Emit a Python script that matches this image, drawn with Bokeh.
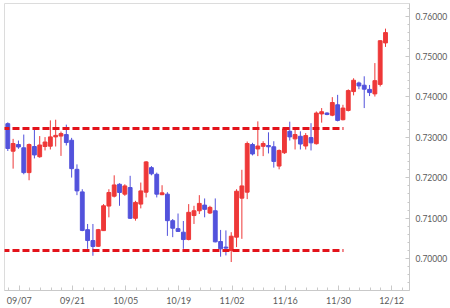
from bokeh.plotting import figure
from bokeh.models import FixedTicker, PrintfTickFormatter, ColumnDataSource, Range1d
from bokeh.embed import file_html
from bokeh.resources import INLINE

# ---- data ----
opens = [0.73339, 0.72658, 0.72823, 0.72742, 0.72128, 0.72774, 0.72521, 0.72774, 0.72781, 0.73012,
         0.73032, 0.73069, 0.72929, 0.72209, 0.71651, 0.70717, 0.70447, 0.70305, 0.70693, 0.71300,
         0.71545, 0.71840, 0.71595, 0.71759, 0.70998, 0.71349, 0.71644, 0.72251, 0.72086, 0.71582,
         0.71595, 0.70939, 0.70742, 0.70654, 0.70472, 0.71066, 0.71184, 0.71324, 0.71128, 0.71184,
         0.70423, 0.70285, 0.70201, 0.70531, 0.71496, 0.71644, 0.72823, 0.72713, 0.72779, 0.72799,
         0.72767, 0.72290, 0.72619, 0.73150, 0.72963, 0.73027, 0.72786, 0.72995, 0.72843, 0.73580,
         0.73602, 0.73548, 0.73806, 0.73437, 0.73666, 0.74133, 0.74346, 0.74290, 0.74187, 0.74076,
         0.74310, 0.75337]
highs = [0.73371, 0.72963, 0.72921, 0.73069, 0.72848, 0.73233, 0.73032, 0.73007, 0.73420, 0.73437,
         0.73143, 0.73315, 0.72988, 0.72332, 0.71717, 0.70857, 0.70857, 0.70735, 0.71349, 0.71717,
         0.72061, 0.71865, 0.71840, 0.72049, 0.71430, 0.71882, 0.72413, 0.72290, 0.72128, 0.71816,
         0.71644, 0.70980, 0.71116, 0.70931, 0.71349, 0.71307, 0.71570, 0.71489, 0.71307, 0.71489,
         0.70710, 0.70698, 0.70654, 0.71717, 0.72197, 0.72897, 0.72865, 0.73396, 0.72904, 0.73125,
         0.72904, 0.72700, 0.73229, 0.73388, 0.73192, 0.73150, 0.73106, 0.73351, 0.73641, 0.73725,
         0.73622, 0.73995, 0.74052, 0.73806, 0.74187, 0.74462, 0.74378, 0.74511, 0.74297, 0.74838,
         0.75403, 0.75690]
lows = [0.72663, 0.72226, 0.72717, 0.72086, 0.71939, 0.72479, 0.72496, 0.72676, 0.72700, 0.72774,
        0.72541, 0.72799, 0.72005, 0.71570, 0.70678, 0.70243, 0.70071, 0.70292, 0.70686, 0.71022,
        0.71514, 0.71307, 0.71553, 0.70980, 0.70939, 0.71243, 0.71514, 0.72061, 0.71514, 0.71570,
        0.70563, 0.70531, 0.70661, 0.70243, 0.70452, 0.70857, 0.71103, 0.71022, 0.71103, 0.70403,
        0.70047, 0.70079, 0.69916, 0.70285, 0.70489, 0.71472, 0.72553, 0.72536, 0.72536, 0.72602,
        0.72251, 0.72209, 0.72590, 0.72921, 0.72700, 0.72700, 0.72700, 0.72676, 0.72823, 0.73364,
        0.73548, 0.73523, 0.73396, 0.73420, 0.73641, 0.74039, 0.74192, 0.73725, 0.74022, 0.74010,
        0.74260, 0.75238]
closes = [0.72725, 0.72848, 0.72762, 0.72128, 0.72823, 0.72565, 0.72811, 0.72885, 0.73012, 0.73049,
          0.73093, 0.72872, 0.72226, 0.71676, 0.70698, 0.70447, 0.70300, 0.70717, 0.71307, 0.71636,
          0.71823, 0.71636, 0.71799, 0.70998, 0.71391, 0.71676, 0.72393, 0.72098, 0.71595, 0.71627,
          0.70939, 0.70752, 0.70673, 0.70472, 0.71145, 0.71184, 0.71366, 0.71219, 0.71268, 0.70415,
          0.70243, 0.70260, 0.70555, 0.71668, 0.71799, 0.72848, 0.72590, 0.72786, 0.72848, 0.72767,
          0.72405, 0.72676, 0.73209, 0.73012, 0.73069, 0.72835, 0.73044, 0.72865, 0.73602, 0.73634,
          0.73565, 0.73862, 0.73420, 0.73725, 0.74157, 0.74413, 0.74273, 0.74192, 0.74108, 0.74403,
          0.75391, 0.75592]

date_labels = ["09/07", "09/21", "10/05", "10/19", "11/02", "11/16", "11/30", "12/12"]
price_ticks = [0.70, 0.71, 0.72, 0.73, 0.74, 0.75, 0.76]

resistance_level = 0.7322
support_level = 0.7020
level_first_bar = -1
level_last_bar = 63.1

# ---- style ----
UP = "#ee3838"
DOWN = "#5252dc"
LEVEL = "#e3131b"
AXIS = "#c9c9c9"
LABEL = "#5a5a5a"

n = len(opens)
idx = list(range(n))
colors = [UP if c >= o else DOWN for o, c in zip(opens, closes)]
tops = [max(o, c) for o, c in zip(opens, closes)]
bots = [min(o, c) for o, c in zip(opens, closes)]
src = ColumnDataSource(dict(x=idx, high=highs, low=lows, top=tops, bottom=bots, color=colors))

p = figure(width=450, height=308, output_backend="svg", toolbar_location=None,
           x_range=Range1d(-0.62, 75.51), y_range=Range1d(0.692113, 0.763120),
           min_border_left=4, min_border_right=41, min_border_top=3, min_border_bottom=16,
           y_axis_location="right", background_fill_color="white", border_fill_color="white")
p.xgrid.visible = False
p.ygrid.visible = False
p.outline_line_color = "#dcdcdc"

p.segment(x0="x", x1="x", y0="low", y1="high", color="color", line_width=1, source=src)
p.vbar(x="x", width=0.72, top="top", bottom="bottom", fill_color="color", line_color="color",
       line_width=1, source=src)

for lvl in (resistance_level, support_level):
    p.segment(x0=[level_first_bar], x1=[level_last_bar], y0=[lvl], y1=[lvl],
              line_color=LEVEL, line_width=3, line_dash="7 3", line_cap="butt")

# x axis
tick_offset = 2.15
major_x = [tick_offset + 10 * k for k in range(len(date_labels))]
minor_x = [tick_offset - 2 + 2 * j for j in range(0, 5 * len(date_labels) + 2)]
xa = p.xaxis[0]
xa.ticker = FixedTicker(ticks=major_x, minor_ticks=minor_x)
xa.major_label_overrides = {t: l for t, l in zip(major_x, date_labels)}
xa.axis_line_color = AXIS
xa.major_tick_line_color = AXIS
xa.minor_tick_line_color = AXIS
xa.major_tick_in = 5
xa.major_tick_out = 0
xa.minor_tick_in = 3
xa.minor_tick_out = 0
xa.major_label_standoff = 4
xa.major_label_text_font = "Lato"
xa.major_label_text_font_size = "9px"
xa.major_label_text_color = LABEL

# y axis
ya = p.yaxis[0]
minor_y = [round(0.694 + 0.002 * j, 3) for j in range(35)]
ya.ticker = FixedTicker(ticks=price_ticks, minor_ticks=minor_y)
ya.formatter = PrintfTickFormatter(format="%.5f")
ya.axis_line_color = AXIS
ya.major_tick_line_color = AXIS
ya.minor_tick_line_color = AXIS
ya.major_tick_in = 4
ya.major_tick_out = 0
ya.minor_tick_in = 2
ya.minor_tick_out = 0
ya.major_label_standoff = 6
ya.major_label_text_font = "Lato"
ya.major_label_text_font_size = "8.5px"
ya.major_label_text_color = LABEL

open("out.html", "w").write(file_html(p, INLINE))
